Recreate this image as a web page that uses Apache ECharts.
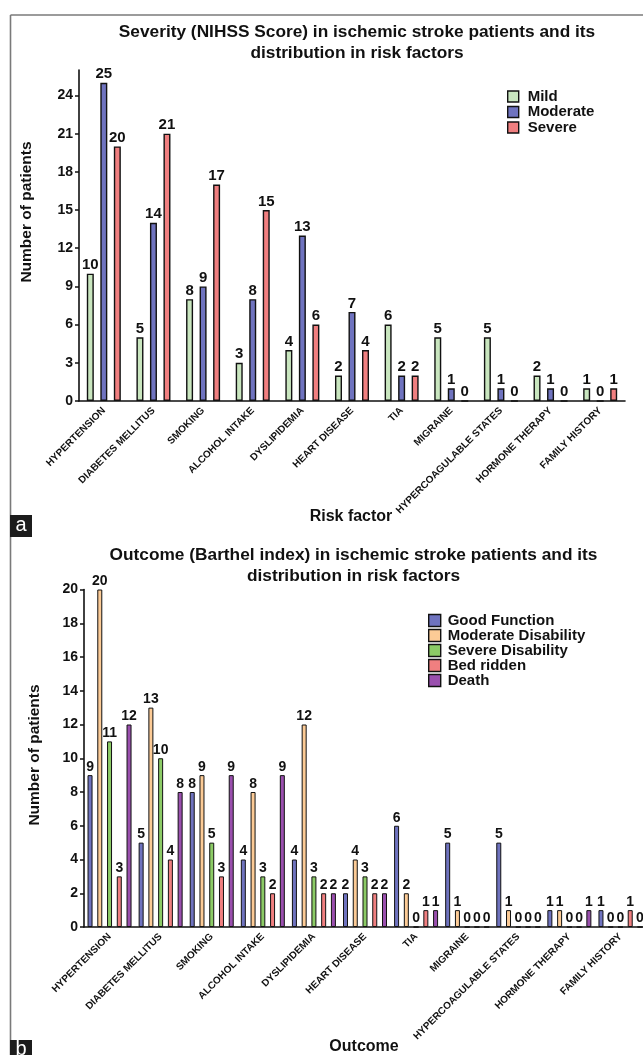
<!DOCTYPE html>
<html>
<head>
<meta charset="utf-8">
<script src="https://cdn.jsdelivr.net/npm/echarts@6/dist/echarts.min.js"></script>
<style>
  html, body { margin: 0; padding: 0; background: #ffffff; }
  #chart { width: 643px; height: 1055px; }
</style>
</head>
<body>
<div id="chart"></div>
<script>
// Risk factor categories shared by both panels
const riskFactors = ['HYPERTENSION', 'DIABETES MELLITUS', 'SMOKING', 'ALCOHOL INTAKE', 'DYSLIPIDEMIA',
  'HEART DISEASE', 'TIA', 'MIGRAINE', 'HYPERCOAGULABLE STATES', 'HORMONE THERAPY', 'FAMILY HISTORY'];

// Panel a: severity (NIHSS score)
const severityNames = ['Mild', 'Moderate', 'Severe'];
const mild     = [10, 5, 8, 3, 4, 2, 6, 5, 5, 2, 1];
const moderate = [25, 14, 9, 8, 13, 7, 2, 1, 1, 1, 0];
const severe   = [20, 21, 17, 15, 6, 4, 2, 0, 0, 0, 1];
const severityTicks = [0, 3, 6, 9, 12, 15, 18, 21, 24];

// Panel b: outcome (Barthel index)
const outcomeNames = ['Good Function', 'Moderate Disability', 'Severe Disability', 'Bed ridden', 'Death'];
const goodFunction       = [9, 5, 8, 4, 4, 2, 6, 5, 5, 1, 1];
const moderateDisability = [20, 13, 9, 8, 12, 4, 2, 1, 1, 1, 0];
const severeDisability   = [11, 10, 5, 3, 3, 3, 0, 0, 0, 0, 0];
const bedRidden          = [3, 4, 3, 2, 2, 2, 1, 0, 0, 0, 1];
const death              = [12, 8, 9, 9, 2, 2, 1, 0, 0, 1, 0];
const outcomeTicks = [0, 2, 4, 6, 8, 10, 12, 14, 16, 18, 20];

const FONT = '"Liberation Sans", Arial, Helvetica, sans-serif';
const INK = '#111111';

const severityColors = ['#c9e6bf', '#6f73bf', '#f07f80'];
const outcomeColors = ['#6f73bf', '#fccb96', '#8ccb66', '#f07f80', '#9a4fae'];

function axisX(gridIndex) {
  return {
    type: 'category', gridIndex: gridIndex, data: riskFactors,
    axisLine: { lineStyle: { color: INK, width: 1.6 } },
    axisTick: { alignWithLabel: true, length: 4, lineStyle: { color: INK, width: 1.5 } },
    axisLabel: { interval: 0, rotate: 45, margin: 8, color: INK, fontFamily: FONT,
      fontSize: 10, fontWeight: 'bold' },
    splitLine: { show: false }
  };
}

function axisY(gridIndex, max, ticks) {
  return {
    type: 'value', gridIndex: gridIndex, min: 0, max: max,
    axisLine: { show: true, lineStyle: { color: INK, width: 1.6 } },
    axisTick: { show: true, length: 4, customValues: ticks, lineStyle: { color: INK, width: 1.5 } },
    axisLabel: { customValues: ticks, margin: 6, color: INK, fontFamily: FONT, fontSize: 14, fontWeight: 'bold' },
    splitLine: { show: false }
  };
}

function barSeries(name, data, color, axisIdx, width, gap, border, labelSize) {
  return {
    type: 'bar', name: name, data: data,
    xAxisIndex: axisIdx, yAxisIndex: axisIdx,
    barWidth: width, barGap: gap,
    itemStyle: { color: color, borderColor: INK, borderWidth: border },
    label: { show: true, position: 'top', distance: 1, color: INK, fontFamily: FONT,
      fontSize: labelSize, fontWeight: 'bold' },
    emphasis: { disabled: true },
    animation: false
  };
}

const severitySeries = [mild, moderate, severe].map((d, i) =>
  barSeries(severityNames[i], d, severityColors[i], 0, 7, '93%', 1.4, 15));
const outcomeSeries = [goodFunction, moderateDisability, severeDisability, bedRidden, death].map((d, i) =>
  barSeries(outcomeNames[i], d, outcomeColors[i], 1, 5, '95%', 1, 14));

function text(x, y, str, size, opts) {
  return Object.assign({
    type: 'text', x: x, y: y, silent: true,
    style: Object.assign({ text: str, fill: INK, fontFamily: FONT, fontSize: size, fontWeight: 'bold',
      align: 'center', verticalAlign: 'middle' }, (opts && opts.style) || {})
  }, (opts && opts.el) || {});
}

const option = {
  backgroundColor: '#ffffff',
  animation: false,
  grid: [
    { left: 79, top: 70, width: 546, height: 331, outerBoundsMode: 'none', containLabel: false },
    { left: 84, top: 589.5, width: 562, height: 337.5, outerBoundsMode: 'none', containLabel: false }
  ],
  xAxis: [axisX(0), axisX(1)],
  yAxis: [axisY(0, 26, severityTicks), axisY(1, 20, outcomeTicks)],
  legend: [
    {
      data: severityNames, orient: 'vertical', left: 507, top: 89, padding: 0,
      itemWidth: 11, itemHeight: 11, itemGap: 0.5, icon: 'rect', selectedMode: false,
      itemStyle: { borderColor: INK, borderWidth: 1.4 },
      textStyle: { color: INK, fontFamily: FONT, fontSize: 15, fontWeight: 'bold', lineHeight: 15, padding: [0, 0, 0, 4] }
    },
    {
      data: outcomeNames, orient: 'vertical', left: 428, top: 613, padding: 0,
      itemWidth: 12, itemHeight: 12, itemGap: 0, icon: 'rect', selectedMode: false,
      itemStyle: { borderColor: INK, borderWidth: 1.4 },
      textStyle: { color: INK, fontFamily: FONT, fontSize: 15, fontWeight: 'bold', lineHeight: 14, padding: [0, 0, 0, 2] }
    }
  ],
  series: severitySeries.concat(outcomeSeries),
  graphic: [
    // panel frame
    { type: 'line', silent: true, shape: { x1: 10.5, y1: 15, x2: 643, y2: 15 }, style: { stroke: '#7a7a7a', lineWidth: 1.6 } },
    { type: 'line', silent: true, shape: { x1: 10.5, y1: 15, x2: 10.5, y2: 1055 }, style: { stroke: '#7a7a7a', lineWidth: 1.6 } },
    // titles
    text(357, 21.5, 'Severity (NIHSS Score) in ischemic stroke patients and its\ndistribution in risk factors', 17.3,
      { style: { verticalAlign: 'top', lineHeight: 21 } }),
    text(353.5, 544, 'Outcome (Barthel index) in ischemic stroke patients and its\ndistribution in risk factors', 17.3,
      { style: { verticalAlign: 'top', lineHeight: 21.7 } }),
    // axis names
    text(27, 212, 'Number of patients', 15.5, { el: { rotation: Math.PI / 2 } }),
    text(35, 755, 'Number of patients', 15.5, { el: { rotation: Math.PI / 2 } }),
    text(351, 517, 'Risk factor', 16),
    text(364, 1047, 'Outcome', 16),
    // panel letters
    { type: 'rect', silent: true, shape: { x: 10, y: 515, width: 22, height: 22 }, style: { fill: '#1c1c1c' } },
    text(21, 525, 'a', 20, { style: { fill: '#ffffff', fontWeight: 'normal' } }),
    { type: 'rect', silent: true, shape: { x: 10, y: 1040, width: 22, height: 20 }, style: { fill: '#1c1c1c' } },
    text(21, 1049, 'b', 20, { style: { fill: '#ffffff', fontWeight: 'normal' } })
  ]
};

const chart = echarts.init(document.getElementById('chart'), null, { renderer: 'canvas' });
chart.setOption(option);
</script>
</body>
</html>
